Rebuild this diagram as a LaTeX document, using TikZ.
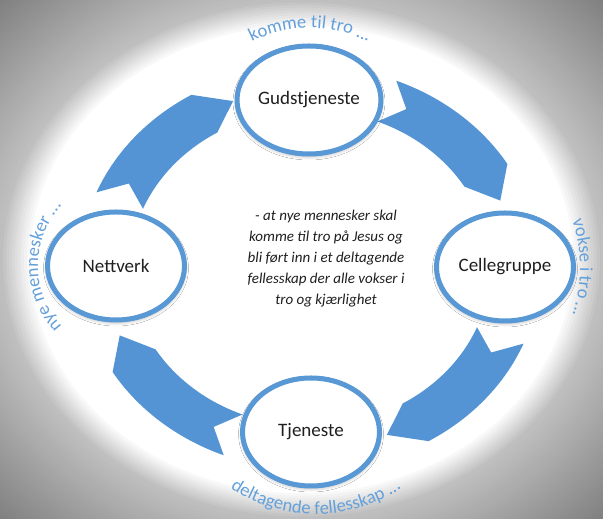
\documentclass[tikz,border=0pt]{standalone}
\usepackage{fontspec}
\setmainfont{Carlito}
\usetikzlibrary{calc,shapes.geometric,decorations.text,shadows.blur}
\definecolor{arrowblue}{RGB}{84,148,212}
\definecolor{ringblue}{RGB}{88,152,213}
\definecolor{lblue}{RGB}{100,160,218}
\newcommand\lblfont{\fontsize{18.5}{20}\selectfont\color{lblue}}
\newcommand\cyclearrow[1]{%
  \pgfmathsetmacro\ta{#1-22}%
  \pgfmathsetmacro\na{#1-28}%
  \pgfmathsetmacro\ha{#1-59}%
  \pgfmathsetmacro\pa{#1-68}%
  \fill[arrowblue] ($(O)+(\ta:230.28pt and 202pt)$)
    arc[start angle=\ta, end angle=\ha, x radius=230.28pt, y radius=202pt]
    -- ($(O)+(\pa:205.2pt and 180pt)$)
    -- ($(O)+(\ha:180.12pt and 158pt)$)
    arc[start angle=\ha, end angle=\ta, x radius=180.12pt, y radius=158pt]
    -- ($(O)+(\na:205.2pt and 180pt)$) -- cycle;
}
\begin{document}
\begin{tikzpicture}[x=1pt,y=1pt,
  cnode/.style={ellipse, draw=ringblue, line width=5pt, fill=white,
    minimum width=137pt, minimum height=108pt, inner sep=0pt,
    font=\fontsize{19}{22}\selectfont, text=black!88,
    blur shadow={shadow blur steps=6, shadow xshift=0pt, shadow yshift=-2pt, shadow opacity=35, shadow blur radius=4pt}},
  lbl/.style={decorate, decoration={text along path, text align=center, text={#1}}}]
\useasboundingbox (0,0) rectangle (603,519);
% vignette background
\fill[black!50] (0,0) rectangle (603,519);
\foreach \i in {0,...,55}{
  \pgfmathsetmacro\f{1.42-\i*0.01}
  \pgfmathsetmacro\p{\f>0.9999 ? 25+(\f-1)*59.5 : max(0,(\f-0.9)*250)}
  \fill[black!\p] (301.5,259.5) ellipse[x radius={301.5pt*\f}, y radius={259.5pt*\f}];
}
\coordinate (O) at (310,251);
\cyclearrow{180}
\cyclearrow{90}
\cyclearrow{0}
\cyclearrow{-90}
\node[cnode] (G) at (309,419) {Gudstjeneste};
\node[cnode] (C) at (505,252) {Cellegruppe};
\node[cnode] (T) at (311,87) {Tjeneste};
\node[cnode] (N) at (116,253) {Nettverk};
\node[align=center, font=\itshape\fontsize{15}{21}\selectfont, text=black!88] (M) at (326,260)
  {- at nye mennesker skal\\komme til tro på Jesus og\\bli ført inn i et deltagende\\fellesskap der alle vokser i\\tro og kjærlighet};
\path[lbl={|\lblfont|komme til tro ...}] ($(310,364)+(150:127)$) arc[start angle=150, end angle=30, radius=127pt];
\path[lbl={|\lblfont|deltagende fellesskap ...}] ($(316,161)+(215:156)$) arc[start angle=215, end angle=325, radius=156pt];
\path[lbl={|\lblfont|nye mennesker ...}] ($(127,253)+(235:89)$) arc[start angle=235, end angle=125, radius=89pt];
\path[lbl={|\lblfont|vokse i tro ...}] ($(430,251)+(35:150)$) arc[start angle=35, end angle=-35, radius=150pt];
\end{tikzpicture}
\end{document}
